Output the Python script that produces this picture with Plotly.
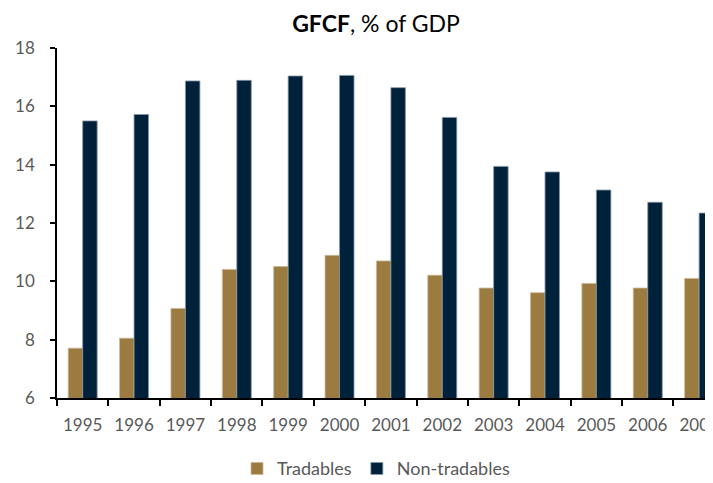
import plotly.graph_objects as go

years = ["1995", "1996", "1997", "1998", "1999", "2000", "2001", "2002", "2003", "2004", "2005", "2006", "2007"]
tradables = [7.71, 8.05, 9.07, 10.41, 10.51, 10.89, 10.70, 10.21, 9.77, 9.61, 9.93, 9.77, 10.10]
non_tradables = [15.50, 15.72, 16.87, 16.89, 17.04, 17.06, 16.64, 15.62, 13.94, 13.75, 13.13, 12.71, 12.34]

font_family = "Lato, 'Open Sans', sans-serif"

fig = go.Figure()
fig.add_trace(go.Bar(x=years, y=tradables, name="Tradables",
                     marker=dict(color="#9B7B3F", line=dict(color="#c9b99a", width=0.8))))
fig.add_trace(go.Bar(x=years, y=non_tradables, name="Non-tradables",
                     marker=dict(color="#00213A", line=dict(color="#8596a6", width=0.8))))

# page body has an 8px margin, so the figure is sized to end at the window edge
fig.update_layout(
    width=705, height=475,
    margin=dict(l=49, r=0, t=40, b=85, autoexpand=False),
    paper_bgcolor="white", plot_bgcolor="white",
    barmode="group", bargap=0.436, bargroupgap=0,
    font=dict(family=font_family, size=17, color="#595959"),
    title=dict(text="<b>GFCF</b>, % of GDP", x=0.522, xanchor="center", xref="container",
               y=0.966, yref="container", yanchor="middle",
               font=dict(size=23, color="#000000", family=font_family)),
    legend=dict(orientation="h", x=0.522, xanchor="center", xref="container",
                y=0.03, yref="container", yanchor="middle",
                font=dict(size=18, color="#595959"), traceorder="normal"),
    showlegend=True,
)
fig.update_yaxes(range=[6, 18], dtick=2, showline=True, linecolor="#000000", linewidth=1.5,
                 ticks="outside", ticklen=5, tickcolor="#000000", tickwidth=1.5,
                 showgrid=False, zeroline=False, ticklabelstandoff=12, automargin=False)
fig.update_xaxes(type="category", range=[-0.5, 12.27], showline=True, linecolor="#000000", linewidth=1.5,
                 ticks="outside", ticklen=6, tickcolor="#000000", tickwidth=1.5, tickson="boundaries",
                 showgrid=False, ticklabelstandoff=11, automargin=False)

fig.write_html("out.html")
